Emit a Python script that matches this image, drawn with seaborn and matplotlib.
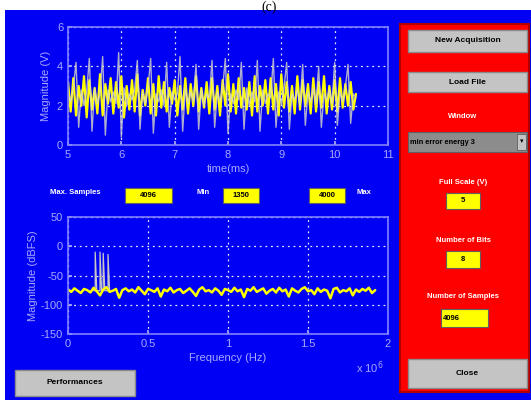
import numpy as np
import pandas as pd
import matplotlib
matplotlib.use("Agg")
import matplotlib.pyplot as plt
import seaborn as sns
from matplotlib.patches import Rectangle

sns.set_theme(style="white")
plt.rcParams['font.family'] = ['Liberation Sans', 'DejaVu Sans']
plt.rcParams['axes.unicode_minus'] = False

# ---------------- data ----------------
time_start_ms = 5.0
time_step_ms = 0.05
signal_yellow = [
    3.2, 1.7, 3.4, 1.5, 3.0, 2.0, 3.5, 1.4, 3.3, 1.8,
    2.9, 1.6, 3.6, 1.5, 3.1, 2.1, 3.4, 1.6, 3.2, 1.9,
    3.5, 1.4, 3.0, 1.8, 3.3, 1.7, 3.6, 1.5, 2.8, 2.0,
    3.4, 1.6, 3.1, 1.5, 3.5, 1.9, 3.2, 1.7, 2.9, 2.1,
    3.3, 1.5, 3.0, 1.8, 3.4, 1.6, 3.1, 2.0, 3.5, 1.7,
    2.9, 1.9, 3.2, 1.6, 3.4, 1.8, 3.0, 1.5, 3.3, 2.0,
    3.6, 1.7, 3.1, 1.6, 3.4, 1.9, 2.9, 1.8, 3.2, 1.5,
    3.5, 1.7, 3.0, 2.0, 3.3, 1.6, 3.4, 1.8, 3.1, 1.5,
    3.6, 1.9, 3.2, 1.7, 3.0, 1.6, 3.5, 1.8, 3.3, 2.0,
    3.1, 1.6, 3.4, 1.7, 3.2, 1.9, 3.5, 1.6, 3.0, 1.8,
    3.3, 1.7, 3.4, 1.9, 3.1, 2.0, 3.2, 1.8, 2.6]
signal_grey = [
    2.6, 2.2, 2.9, 4.2, 0.9, 2.8, 2.0, 2.7, 4.4, 0.7,
    2.9, 2.1, 2.6, 4.5, 0.5, 2.8, 2.2, 2.7, 2.1, 4.7,
    0.4, 2.9, 2.0, 2.6, 2.3, 2.8, 4.3, 0.8, 2.7, 2.1,
    2.9, 4.4, 0.6, 2.6, 2.2, 2.8, 2.0, 4.2, 0.9, 2.7,
    2.3, 2.6, 4.5, 0.7, 2.9, 2.1, 2.7, 2.2, 4.1, 0.8,
    2.8, 2.0, 2.6, 2.4, 4.3, 0.9, 2.7, 2.2, 2.9, 4.4,
    0.6, 2.6, 2.1, 2.8, 2.3, 4.2, 0.8, 2.9, 2.0, 2.7,
    2.2, 4.3, 0.7, 2.8, 2.1, 2.6, 2.4, 4.4, 0.9, 2.7,
    2.1, 2.9, 4.2, 0.8, 2.6, 2.3, 2.8, 2.0, 4.1, 1.0,
    2.7, 2.2, 2.9, 2.1, 4.0, 0.9, 2.6, 2.3, 2.8, 2.1,
    4.2, 1.0, 2.7, 2.2, 2.9, 4.1, 1.1, 2.6, 2.4]

freq_start = 0.0
freq_step = 0.02
spectrum_yellow = [
    -74, -78, -72, -76, -80, -73, -75, -79, -71, -77,
    -84, -74, -70, -78, -76, -73, -88, -75, -72, -77,
    -74, -79, -70, -76, -82, -73, -75, -78, -72, -86,
    -74, -77, -71, -79, -75, -73, -80, -76, -72, -78,
    -85, -74, -70, -77, -75, -79, -72, -76, -83, -73,
    -75, -78, -71, -77, -74, -87, -73, -76, -70, -78,
    -75, -72, -81, -76, -73, -79, -71, -77, -74, -86,
    -72, -76, -79, -73, -70, -77, -75, -82, -72, -78,
    -74, -76, -89, -73, -71, -79, -75, -77, -72, -84,
    -74, -78, -73, -76, -71, -80, -75]
peak_freq = [0.16, 0.17, 0.17, 0.18, 0.19, 0.20, 0.20, 0.21, 0.22, 0.22,
             0.23, 0.24, 0.25, 0.25, 0.26]
peak_mag = [-76, -76, -10, -76, -76, -76, -10, -76, -76, -12,
            -76, -76, -76, -14, -76]

time_ticks = [5, 6, 7, 8, 9, 10, 11]
volt_ticks = [0, 2, 4, 6]
freq_ticks = [0, 0.5, 1, 1.5, 2]
freq_tick_labels = ["0", "0.5", "1", "1.5", "2"]
dbfs_ticks = [-150, -100, -50, 0, 50]

t = time_start_ms + time_step_ms * np.arange(len(signal_yellow))
f = freq_start + freq_step * np.arange(len(spectrum_yellow))
df_sig = pd.DataFrame({"t": t, "y": signal_yellow, "g": signal_grey})
df_spec = pd.DataFrame({"f": f, "m": spectrum_yellow})
df_peak = pd.DataFrame({"f": peak_freq, "m": peak_mag})

# ---------------- figure ----------------
W, H = 531, 400
fig = plt.figure(figsize=(W / 100, H / 100), dpi=100, facecolor="white")

bg = fig.add_axes([0, 0, 1, 1], zorder=0)
bg.set_xlim(0, W)
bg.set_ylim(H, 0)
bg.axis("off")

BLUE = "#0000f4"
AX_COL = "#8080ff"
TXT_COL = "#a8a8ff"
YEL = "#ffff00"
GREY_BTN = "#c4c4c4"

bg.add_patch(Rectangle((5, 10), 526, 390, facecolor=BLUE, edgecolor="none"))
bg.text(269, 0.5, "(c)", ha="center", va="top", fontsize=10,
        family=["Liberation Serif", "DejaVu Serif"], color="black")

# red panel
bg.add_patch(Rectangle((400, 24), 129, 368, facecolor="#ff0000", edgecolor="#b00000", lw=1.5))


def button(x0, y0, x1, y1, label, fc=GREY_BTN, tc="black", fs=6, ha="center"):
    bg.add_patch(Rectangle((x0, y0), x1 - x0, y1 - y0, facecolor=fc,
                           edgecolor="#8a8a8a", lw=1.0))
    tx = (x0 + x1) / 2 if ha == "center" else x0 + 2
    bg.text(tx, (y0 + y1) / 2, label, ha=ha, va="center", fontsize=fs,
            color=tc, fontweight="bold")


def ybox(x0, y0, x1, y1, label, ha="center"):
    bg.add_patch(Rectangle((x0, y0), x1 - x0, y1 - y0, facecolor=YEL,
                           edgecolor="#606060", lw=0.8))
    tx = (x0 + x1) / 2 if ha == "center" else x0 + 2
    bg.text(tx, (y0 + y1) / 2, label, ha=ha, va="center", fontsize=5.5,
            color="black", fontweight="bold")


def wlabel(x, y, s, ha="center", fs=5.5):
    bg.text(x, y, s, ha=ha, va="center", fontsize=fs, color="white",
            fontweight="bold")


button(408, 30, 527, 52, "New Acquisition")
button(408, 72, 527, 92, "Load File")
wlabel(463, 117, "Window")
bg.add_patch(Rectangle((408, 132), 119, 20, facecolor="#8c8c8c", edgecolor="#606060", lw=0.8))
bg.text(410, 142, "min error energy 3", ha="left", va="center", fontsize=5.3,
        color="black", fontweight="bold")
bg.add_patch(Rectangle((517, 134), 9, 16, facecolor=GREY_BTN, edgecolor="#606060", lw=0.6))
bg.text(521.5, 142, "▾", ha="center", va="center", fontsize=5, color="black")
wlabel(463, 182, "Full Scale (V)")
ybox(446, 193, 480, 209, "5")
wlabel(463, 240, "Number of Bits")
ybox(446, 251, 480, 268, "8")
wlabel(463, 297, "Number of Samples")
ybox(441, 309, 488, 327, "4096", ha="left")
button(408, 359, 527, 388, "Close")

button(15, 370, 135, 396, "Performances")

# middle row
wlabel(75, 193, "Max. Samples")
ybox(125, 188, 172, 203, "4096")
wlabel(203, 193, "Min")
ybox(223, 188, 259, 203, "1350")
ybox(309, 188, 345, 203, "4000")
wlabel(364, 193, "Max")


def style_axes(ax):
    ax.set_facecolor(BLUE)
    for s in ax.spines.values():
        s.set_color(AX_COL)
        s.set_linewidth(1.2)
    ax.grid(True, color="white", linestyle=(0, (1.5, 3)), linewidth=0.9, alpha=0.9)
    ax.tick_params(colors=TXT_COL, labelsize=8, direction="in", length=3,
                   labelcolor=TXT_COL, left=True, bottom=True)


def fig_rect(x0, y0, x1, y1):
    return [x0 / W, 1 - y1 / H, (x1 - x0) / W, (y1 - y0) / H]


# top: time signal
ax1 = fig.add_axes(fig_rect(68, 27, 388, 145), zorder=2)
style_axes(ax1)
sns.lineplot(data=df_sig, x="t", y="y", ax=ax1, color=YEL, lw=1.6,
             estimator=None, sort=False)
sns.lineplot(data=df_sig, x="t", y="g", ax=ax1, color="#d8d8c8", lw=1.0,
             alpha=0.8, estimator=None, sort=False)
ax1.set_xlim(5, 11)
ax1.set_ylim(0, 6)
ax1.set_xticks(time_ticks)
ax1.set_yticks(volt_ticks)
ax1.set_xlabel("time(ms)", color=TXT_COL, fontsize=8, labelpad=3)
ax1.set_ylabel("Magnitude (V)", color=TXT_COL, fontsize=8, labelpad=4)

# bottom: spectrum
ax2 = fig.add_axes(fig_rect(68, 217, 388, 334), zorder=2)
style_axes(ax2)
sns.lineplot(data=df_peak, x="f", y="m", ax=ax2, color="#c8c8c8", lw=0.9,
             estimator=None, sort=False)
sns.lineplot(data=df_spec, x="f", y="m", ax=ax2, color=YEL, lw=1.8,
             estimator=None, sort=False)
ax2.set_xlim(0, 2)
ax2.set_ylim(-150, 50)
ax2.set_xticks(freq_ticks)
ax2.set_xticklabels(freq_tick_labels)
ax2.set_yticks(dbfs_ticks)
ax2.set_xlabel("Frequency (Hz)", color=TXT_COL, fontsize=8, labelpad=3)
ax2.set_ylabel("Magnitude (dBFS)", color=TXT_COL, fontsize=8, labelpad=2)
bg.text(370, 368, r"x 10$^{6}$", ha="center", va="center", fontsize=8, color=TXT_COL)

fig.savefig("out.png", dpi=100, facecolor="white")
